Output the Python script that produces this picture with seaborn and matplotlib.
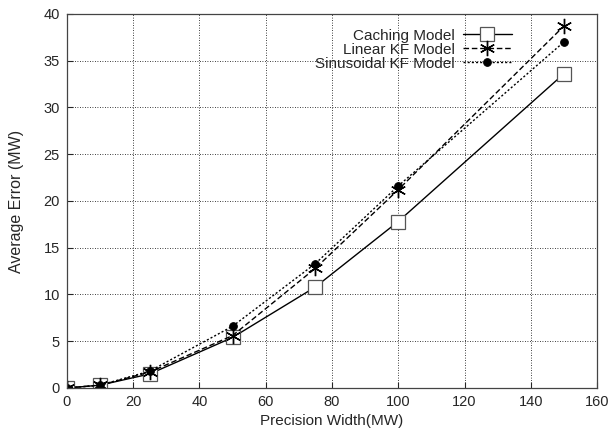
import pandas as pd
import numpy as np
import matplotlib
matplotlib.use('Agg')
import matplotlib.pyplot as plt
import seaborn as sns

# Datos
precision = [0, 10, 25, 50, 75, 100, 150]
caching = [0.0, 0.3, 1.5, 5.4, 10.8, 17.8, 33.6]
linear_kf = [0.0, 0.3, 1.7, 5.6, 12.8, 21.2, 38.7]
sinusoidal_kf = [0.0, 0.3, 1.8, 6.6, 13.3, 21.6, 37.0]

series = ['Caching Model', 'Linear KF Model', 'Sinusoidal KF Model']
valores = [caching, linear_kf, sinusoidal_kf]

sns.set_style('ticks')
plt.rcParams['font.family'] = ['Liberation Sans', 'DejaVu Sans']

fig = plt.figure(figsize=(6.13, 4.34), dpi=100)
ax = fig.add_axes([0.109, 0.106, 0.865, 0.862])

# Estilos de cada serie (estilo gnuplot)
estilos = {
    'Caching Model': dict(marker='s', markersize=9.5, markerfacecolor='white',
                          markeredgecolor='#555555', markeredgewidth=0.9, linestyle='-'),
    'Linear KF Model': dict(marker=(6, 2, 0), markersize=11, markeredgecolor='black',
                            markeredgewidth=1.0, linestyle=(0, (4, 2))),
    'Sinusoidal KF Model': dict(marker='o', markersize=5.5, markerfacecolor='black',
                                markeredgecolor='black', linestyle=(0, (1.5, 1.5))),
}

for nombre, y in zip(series, valores):
    df = pd.DataFrame({'x': precision, 'y': y})
    sns.lineplot(data=df, x='x', y='y', ax=ax, color='black', linewidth=1.0,
                 label=nombre, **estilos[nombre])

ax.set_xlim(0, 160)
ax.set_ylim(0, 40)
ax.set_xticks(np.arange(0, 161, 20))
ax.set_yticks(np.arange(0, 41, 5))
ax.tick_params(direction='in', length=4, width=0.8, labelsize=10.5, pad=5)
ax.grid(True, color='black', linestyle=(0, (1, 2)), linewidth=0.6)
for s in ax.spines.values():
    s.set_linewidth(0.9)
    s.set_color('#444444')

ax.set_xlabel('Precision Width(MW)', fontsize=11)
ax.set_ylabel('Average Error (MW)', fontsize=11.5, labelpad=14)

leg = ax.legend(loc='upper right', bbox_to_anchor=(0.856, 0.985), frameon=False,
                markerfirst=False, fontsize=11, handlelength=3.2,
                labelspacing=0.0, handletextpad=0.5, borderaxespad=0.2)
for t in leg.get_texts():
    t.set_ha('right')

fig.savefig('out.png', dpi=100)
